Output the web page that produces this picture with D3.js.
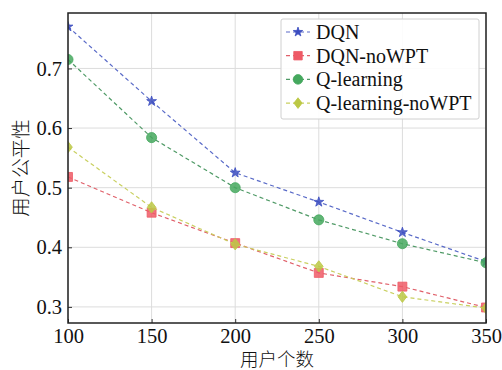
<!DOCTYPE html>
<html>
<head>
<meta charset="utf-8">
<script src="https://cdn.jsdelivr.net/npm/d3@7"></script>
<style>
  body { margin: 0; background: #fff; }
  svg text { font-family: "Liberation Serif", "Times New Roman", serif; }
  .cjk { font-family: "Noto Sans CJK SC", sans-serif; font-weight: 300; }
</style>
</head>
<body>
<figure id="chart" style="margin:0"></figure>
<script>
// chart values
const users = [100, 150, 200, 250, 300, 350];
const dqn = [0.770, 0.645, 0.525, 0.476, 0.425, 0.376];
const dqnNoWpt = [0.518, 0.458, 0.407, 0.357, 0.334, 0.299];
const qLearning = [0.715, 0.584, 0.500, 0.446, 0.406, 0.374];
const qLearningNoWpt = [0.568, 0.467, 0.405, 0.368, 0.317, 0.298];
const seriesNames = ["DQN", "DQN-noWPT", "Q-learning", "Q-learning-noWPT"];
const xTicks = [100, 150, 200, 250, 300, 350];
const yTicks = [0.3, 0.4, 0.5, 0.6, 0.7];

const series = [
  { name: seriesNames[0], values: dqn, line: "#5a6bc8", fill: "#3b4cc0", symbol: d3.symbolStar, size: 30 },
  { name: seriesNames[1], values: dqnNoWpt, line: "#e0606a", fill: "#ee5a66", symbol: d3.symbolSquare, size: 80 },
  { name: seriesNames[2], values: qLearning, line: "#4f9a66", fill: "#45a85e", symbol: d3.symbolCircle, size: 80 },
  { name: seriesNames[3], values: qLearningNoWpt, line: "#c9d060", fill: "#bcc845", symbol: d3.symbolDiamond, size: 45 }
];

const width = 502, height = 370;
const margin = { left: 68, right: 16, top: 13, bottom: 47 };
const innerW = width - margin.left - margin.right;
const innerH = height - margin.top - margin.bottom;

const svg = d3.select("figure#chart")
  .append("svg")
  .attr("width", width)
  .attr("height", height);

const g = svg.append("g")
  .attr("transform", "translate(" + margin.left + "," + margin.top + ")");

const x = d3.scaleLinear().domain([100, 350]).range([0, innerW]);
const y = d3.scaleLinear().domain([0.273, 0.793]).range([innerH, 0]);

// grid
g.append("g")
  .selectAll("line.vg")
  .data(xTicks)
  .enter()
  .append("line")
  .attr("x1", d => x(d)).attr("x2", d => x(d))
  .attr("y1", 0).attr("y2", innerH)
  .attr("stroke", "#dcdcdc").attr("stroke-width", 1);

g.append("g")
  .selectAll("line.hg")
  .data(yTicks)
  .enter()
  .append("line")
  .attr("x1", 0).attr("x2", innerW)
  .attr("y1", d => y(d)).attr("y2", d => y(d))
  .attr("stroke", "#dcdcdc").attr("stroke-width", 1);

// axes
const xAxis = g.append("g")
  .attr("transform", "translate(0," + innerH + ")")
  .call(d3.axisBottom(x).tickValues(xTicks).tickSize(-4).tickPadding(5).tickFormat(d3.format("d")));
xAxis.select(".domain").remove();
xAxis.selectAll("text").attr("font-size", 20.5).attr("fill", "#111");
xAxis.selectAll("line").attr("stroke", "#333");

const yAxis = g.append("g")
  .call(d3.axisLeft(y).tickValues(yTicks).tickSize(-4).tickPadding(6).tickFormat(d3.format(".1f")));
yAxis.select(".domain").remove();
yAxis.selectAll("text").attr("font-size", 20.5).attr("fill", "#111");
yAxis.selectAll("line").attr("stroke", "#333");

// clip
svg.append("defs").append("clipPath").attr("id", "plotclip")
  .append("rect").attr("width", innerW).attr("height", innerH);

const plot = g.append("g").attr("clip-path", "url(#plotclip)");

const line = d3.line()
  .x((d, i) => x(users[i]))
  .y(d => y(d));

series.forEach(s => {
  plot.append("path")
    .datum(s.values)
    .attr("d", line)
    .attr("fill", "none")
    .attr("stroke", s.line)
    .attr("stroke-width", 1.2)
    .attr("stroke-dasharray", "4,3");

  plot.selectAll(null)
    .data(s.values)
    .enter()
    .append("path")
    .attr("d", d3.symbol().type(s.symbol).size(s.size))
    .attr("transform", (d, i) => "translate(" + x(users[i]) + "," + y(d) + ")" + (s.symbol === d3.symbolDiamond ? " scale(1.2,0.9)" : ""))
    .attr("fill", s.fill)
    .attr("fill-opacity", 0.85)
    .attr("stroke", s.fill)
    .attr("stroke-width", 0.8);
});

// frame
g.append("rect")
  .attr("width", innerW).attr("height", innerH)
  .attr("fill", "none").attr("stroke", "#222").attr("stroke-width", 1.5);

// legend
const legend = g.append("g").attr("transform", "translate(" + (281 - margin.left) + "," + (19 - margin.top) + ")");
legend.append("rect")
  .attr("width", 198).attr("height", 100).attr("rx", 2)
  .attr("fill", "#fff").attr("fill-opacity", 0.9)
  .attr("stroke", "#d0d0d0").attr("stroke-width", 1);

series.forEach((s, i) => {
  const ly = 13 + i * 23.7;
  legend.append("line")
    .attr("x1", 5).attr("x2", 29)
    .attr("y1", ly).attr("y2", ly)
    .attr("stroke", s.line).attr("stroke-width", 1.2)
    .attr("stroke-dasharray", "4,3");
  legend.append("path")
    .attr("d", d3.symbol().type(s.symbol).size(s.size * 0.9))
    .attr("transform", "translate(17," + ly + ")" + (s.symbol === d3.symbolDiamond ? " scale(1.2,0.9)" : ""))
    .attr("fill", s.fill).attr("stroke", s.fill).attr("stroke-width", 0.8);
  legend.append("text")
    .attr("x", 35).attr("y", ly)
    .attr("dy", "0.35em")
    .attr("font-size", 20)
    .attr("fill", "#111")
    .text(s.name);
});

// axis titles
svg.append("text")
  .attr("class", "cjk")
  .attr("x", 277).attr("y", 366)
  .attr("text-anchor", "middle")
  .attr("font-size", 18.5)
  .attr("fill", "#111")
  .text("用户个数");

svg.append("text")
  .attr("class", "cjk")
  .attr("transform", "translate(21,168) rotate(-90)")
  .attr("dy", "0.35em")
  .attr("text-anchor", "middle")
  .attr("font-size", 19.5)
  .attr("fill", "#111")
  .text("用户公平性");
</script>
</body>
</html>
